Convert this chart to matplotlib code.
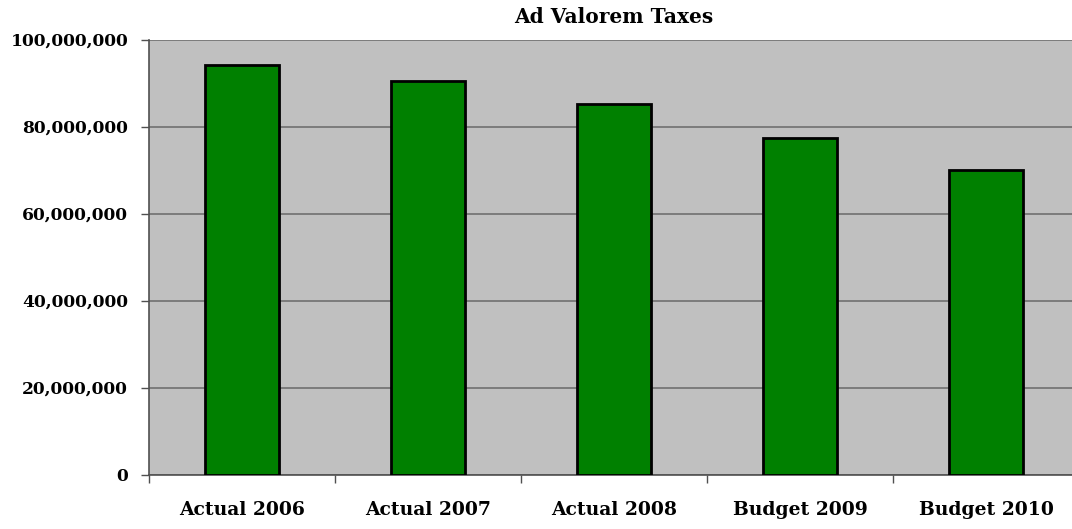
import numpy as np
import matplotlib.pyplot as plt
from matplotlib.ticker import FuncFormatter, FixedLocator

# 数据
categories = ['Actual 2006', 'Actual 2007', 'Actual 2008', 'Budget 2009', 'Budget 2010']
values = [94100000, 90500000, 85200000, 77300000, 70000000]

plt.rcParams['font.family'] = ['DejaVu Serif']
plt.rcParams['font.weight'] = 'bold'

fig = plt.figure(figsize=(10.72, 5.29), dpi=100)
# 绘图区域（右侧略超出画布）
ax = fig.add_axes([149 / 1072, (529 - 474.5) / 529, 930 / 1072, 435 / 529])
ax.set_facecolor('#c0c0c0')

x = np.arange(len(categories))
ax.bar(x, values, width=0.4, color='#008000', edgecolor='black', linewidth=2, zorder=3)

ax.set_xlim(-0.5, len(categories) - 0.5)
ax.set_ylim(0, 100000000)
ax.set_yticks(np.arange(0, 100000001, 20000000))
ax.yaxis.set_major_formatter(FuncFormatter(lambda v, p: f'{int(v):,}'))
ax.yaxis.grid(True, color='#707070', linewidth=1.2, zorder=1)

# x 轴：刻度在类别之间，标签在类别中间
ax.set_xticks(x)
ax.set_xticklabels(categories)
ax.xaxis.set_minor_locator(FixedLocator(np.arange(-0.5, len(categories), 1)))
ax.tick_params(axis='x', which='major', length=0, pad=19, labelsize=13.5)
ax.tick_params(axis='x', which='minor', length=6, color='#505050', width=1)
ax.tick_params(axis='y', length=6, color='#505050', width=1, labelsize=12.3, pad=9)

for s in ['top', 'right']:
    ax.spines[s].set_visible(False)
ax.spines['left'].set_color('#505050')
ax.spines['bottom'].set_color('#505050')
ax.spines['left'].set_linewidth(1.2)
ax.spines['bottom'].set_linewidth(1.2)

ax.set_title('Ad Valorem Taxes', fontsize=14.5, fontweight='bold', pad=12)

fig.savefig('out.png', dpi=100)
